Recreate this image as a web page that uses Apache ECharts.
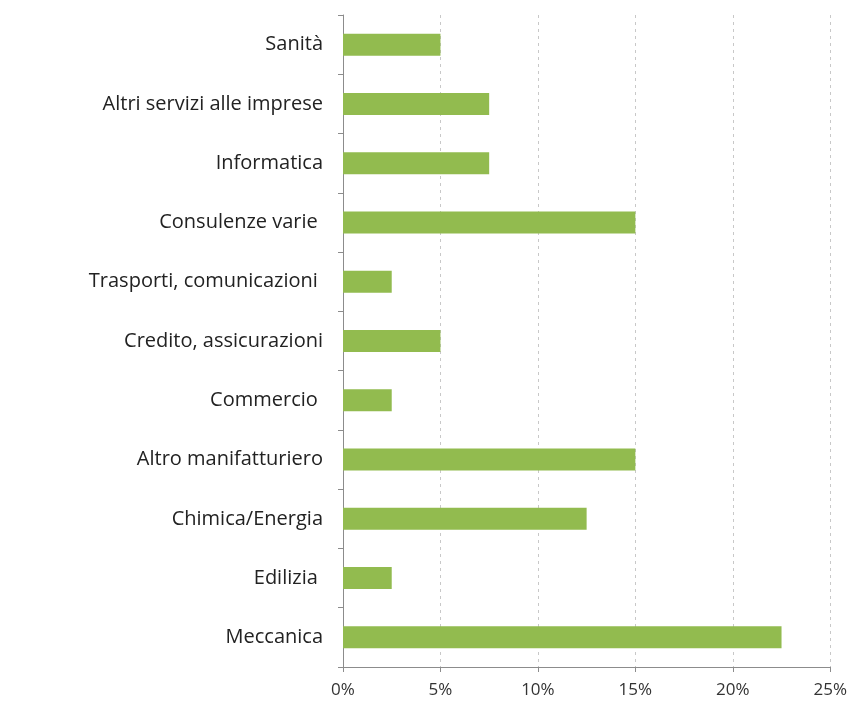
<!DOCTYPE html>
<html>
<head>
<meta charset="utf-8">
<script src="https://cdn.jsdelivr.net/npm/echarts@6/dist/echarts.min.js"></script>
<style>
  html, body { margin: 0; padding: 0; background: #fff; }
  #chart { width: 850px; height: 707px; }
</style>
</head>
<body>
<div id="chart"></div>
<script>
// categories listed bottom -> top (category axis starts at bottom)
const settori = ['Meccanica', 'Edilizia ', 'Chimica/Energia', 'Altro manifatturiero', 'Commercio ',
  'Credito, assicurazioni', 'Trasporti, comunicazioni ', 'Consulenze varie ', 'Informatica',
  'Altri servizi alle imprese', 'Sanità'];
const quote = [22.5, 2.5, 12.5, 15, 2.5, 5, 2.5, 15, 7.5, 7.5, 5];

const chart = echarts.init(document.getElementById('chart'));
chart.setOption({
  animation: false,
  grid: { left: 343, right: 18, top: 15, bottom: 40 },
  xAxis: {
    type: 'value',
    min: 0, max: 25, interval: 5,
    axisLine: { show: true, lineStyle: { color: '#8c8c8c' } },
    axisTick: { show: true, length: 5, lineStyle: { color: '#8c8c8c' } },
    axisLabel: { formatter: '{value}%', color: '#333', fontFamily: 'Open Sans', fontSize: 17, margin: 15 },
    splitLine: { show: true, lineStyle: { color: '#c8c8c8', type: [3, 4] } }
  },
  yAxis: {
    type: 'category',
    data: settori,
    axisLine: { show: true, lineStyle: { color: '#8c8c8c' } },
    axisTick: { show: true, length: 5, lineStyle: { color: '#8c8c8c' } },
    axisLabel: { color: '#222', fontFamily: 'Open Sans', fontSize: 20, margin: 20 }
  },
  series: [{
    type: 'bar',
    data: quote,
    barWidth: 22,
    itemStyle: { color: '#92bb4f' }
  }]
});
</script>
</body>
</html>
